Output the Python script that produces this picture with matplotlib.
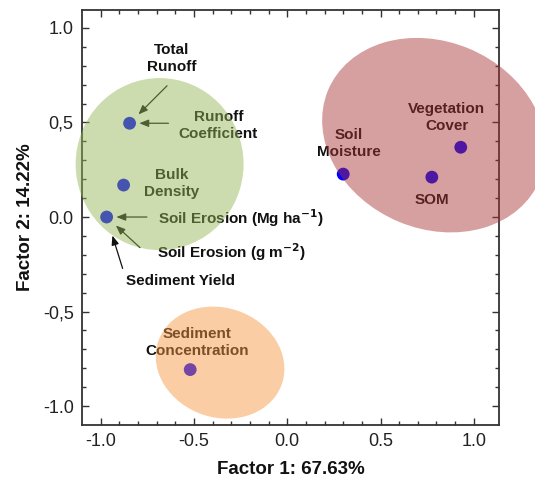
import numpy as np
import matplotlib
matplotlib.use('Agg')
import matplotlib.pyplot as plt
from matplotlib.patches import Ellipse

plt.rcParams['font.family'] = ['Liberation Sans', 'DejaVu Sans']

# factor loadings of each variable
var_names = ['Runoff', 'Bulk Density', 'Soil Erosion', 'Soil Moisture',
             'SOM', 'Vegetation Cover', 'Sediment Concentration']
factor1 = [-0.845, -0.877, -0.968, 0.30, 0.775, 0.93, -0.52]
factor2 = [0.496, 0.169, 0.0, 0.227, 0.211, 0.369, -0.807]

# groups (ellipses): centre x, centre y, width, height, angle, colour
grp_x = [-0.684, 0.786, -0.36]
grp_y = [0.28, 0.433, -0.77]
grp_w = [0.90, 1.23, 0.70]
grp_h = [0.91, 0.99, 0.58]
grp_ang = [0, -22.5, -18]
grp_col = ['#95b555', '#aa3535', '#f59540']

xticks = [-1.0, -0.5, 0.0, 0.5, 1.0]
xticklabels = ['-1.0', '-0.5', '0.0', '0.5', '1.0']
yticks = [-1.0, -0.5, 0.0, 0.5, 1.0]
yticklabels = ['-1.0', '-0,5', '0.0', '0,5', '1.0']

fig = plt.figure(figsize=(5.35, 4.84), dpi=100)
ax = fig.add_axes([82/535, 1-425/484, (499-82)/535, (425-10)/484])

ax.scatter(factor1, factor2, s=85, color='#0000ff', edgecolors='none', zorder=3)

# labels (black, the translucent ellipses go over them)
lab = dict(fontsize=11, fontweight='bold', color='#111111', zorder=3)
ax.text(-0.62, 0.839, 'Total\nRunoff', ha='center', va='center', linespacing=1.25, **lab)
ax.text(-0.369, 0.486, 'Runoff\nCoefficient', ha='center', va='center', linespacing=1.25, **lab)
ax.text(-0.62, 0.179, 'Bulk\nDensity', ha='center', va='center', linespacing=1.25, **lab)
ax.text(-0.695, -0.005, 'Soil Erosion (Mg ha$^{\\mathbf{-1}}$)', ha='left', va='center', **lab)
ax.text(-0.70, -0.185, 'Soil Erosion (g m$^{\\mathbf{-2}}$)', ha='left', va='center', **lab)
ax.text(-0.866, -0.338, 'Sediment Yield', ha='left', va='center', **lab)
ax.text(0.332, 0.39, 'Soil\nMoisture', ha='center', va='center', linespacing=1.25, **lab)
ax.text(0.856, 0.528, 'Vegetation\nCover', ha='center', va='center', linespacing=1.25, **lab)
ax.text(0.775, 0.09, 'SOM', ha='center', va='center', **lab)
ax.text(-0.481, -0.665, 'Sediment\nConcentration', ha='center', va='center', linespacing=1.25, **lab)

# arrows pointing at the runoff and soil erosion points
def arrow(i, dx, dy, gap):
    ax.annotate('', xy=(factor1[i], factor2[i]), xytext=(dx, dy),
                textcoords='offset points',
                arrowprops=dict(arrowstyle='-|>,head_length=0.55,head_width=0.22',
                                color='#111111', lw=0.9, shrinkA=0, shrinkB=gap),
                zorder=3)

arrow(0, 27, 27, 9)
arrow(0, 28, 0, 7)
arrow(2, 29, 0, 7)
arrow(2, 24, -22, 9)
arrow(2, 11.5, -37, 14)

for x, y, w, h, a, c in zip(grp_x, grp_y, grp_w, grp_h, grp_ang, grp_col):
    ax.add_patch(Ellipse((x, y), w, h, angle=a, facecolor=c, edgecolor='none',
                         alpha=0.47, zorder=5, clip_on=False))

ax.set_xlim(-1.1, 1.135)
ax.set_ylim(-1.1, 1.095)
ax.set_xticks(xticks)
ax.set_xticklabels(xticklabels)
ax.set_yticks(yticks)
ax.set_yticklabels(yticklabels)
ax.set_xticks(np.arange(-1.0, 1.01, 0.1), minor=True)
ax.set_yticks(np.arange(-1.0, 1.01, 0.1), minor=True)
ax.tick_params(which='both', direction='in', top=True, right=True,
               color='#333333', width=1)
ax.tick_params(which='major', length=5, labelsize=13, pad=6, labelcolor='#222222')
ax.tick_params(which='minor', length=3)
for s in ax.spines.values():
    s.set_linewidth(1.3)
    s.set_color('#333333')

ax.set_xlabel('Factor 1: 67.63%', fontsize=13.5, fontweight='bold', labelpad=8, color='#111111')
ax.set_ylabel('Factor 2: 14.22%', fontsize=13.5, fontweight='bold', labelpad=6, color='#111111')

fig.savefig('out.png', dpi=100)
